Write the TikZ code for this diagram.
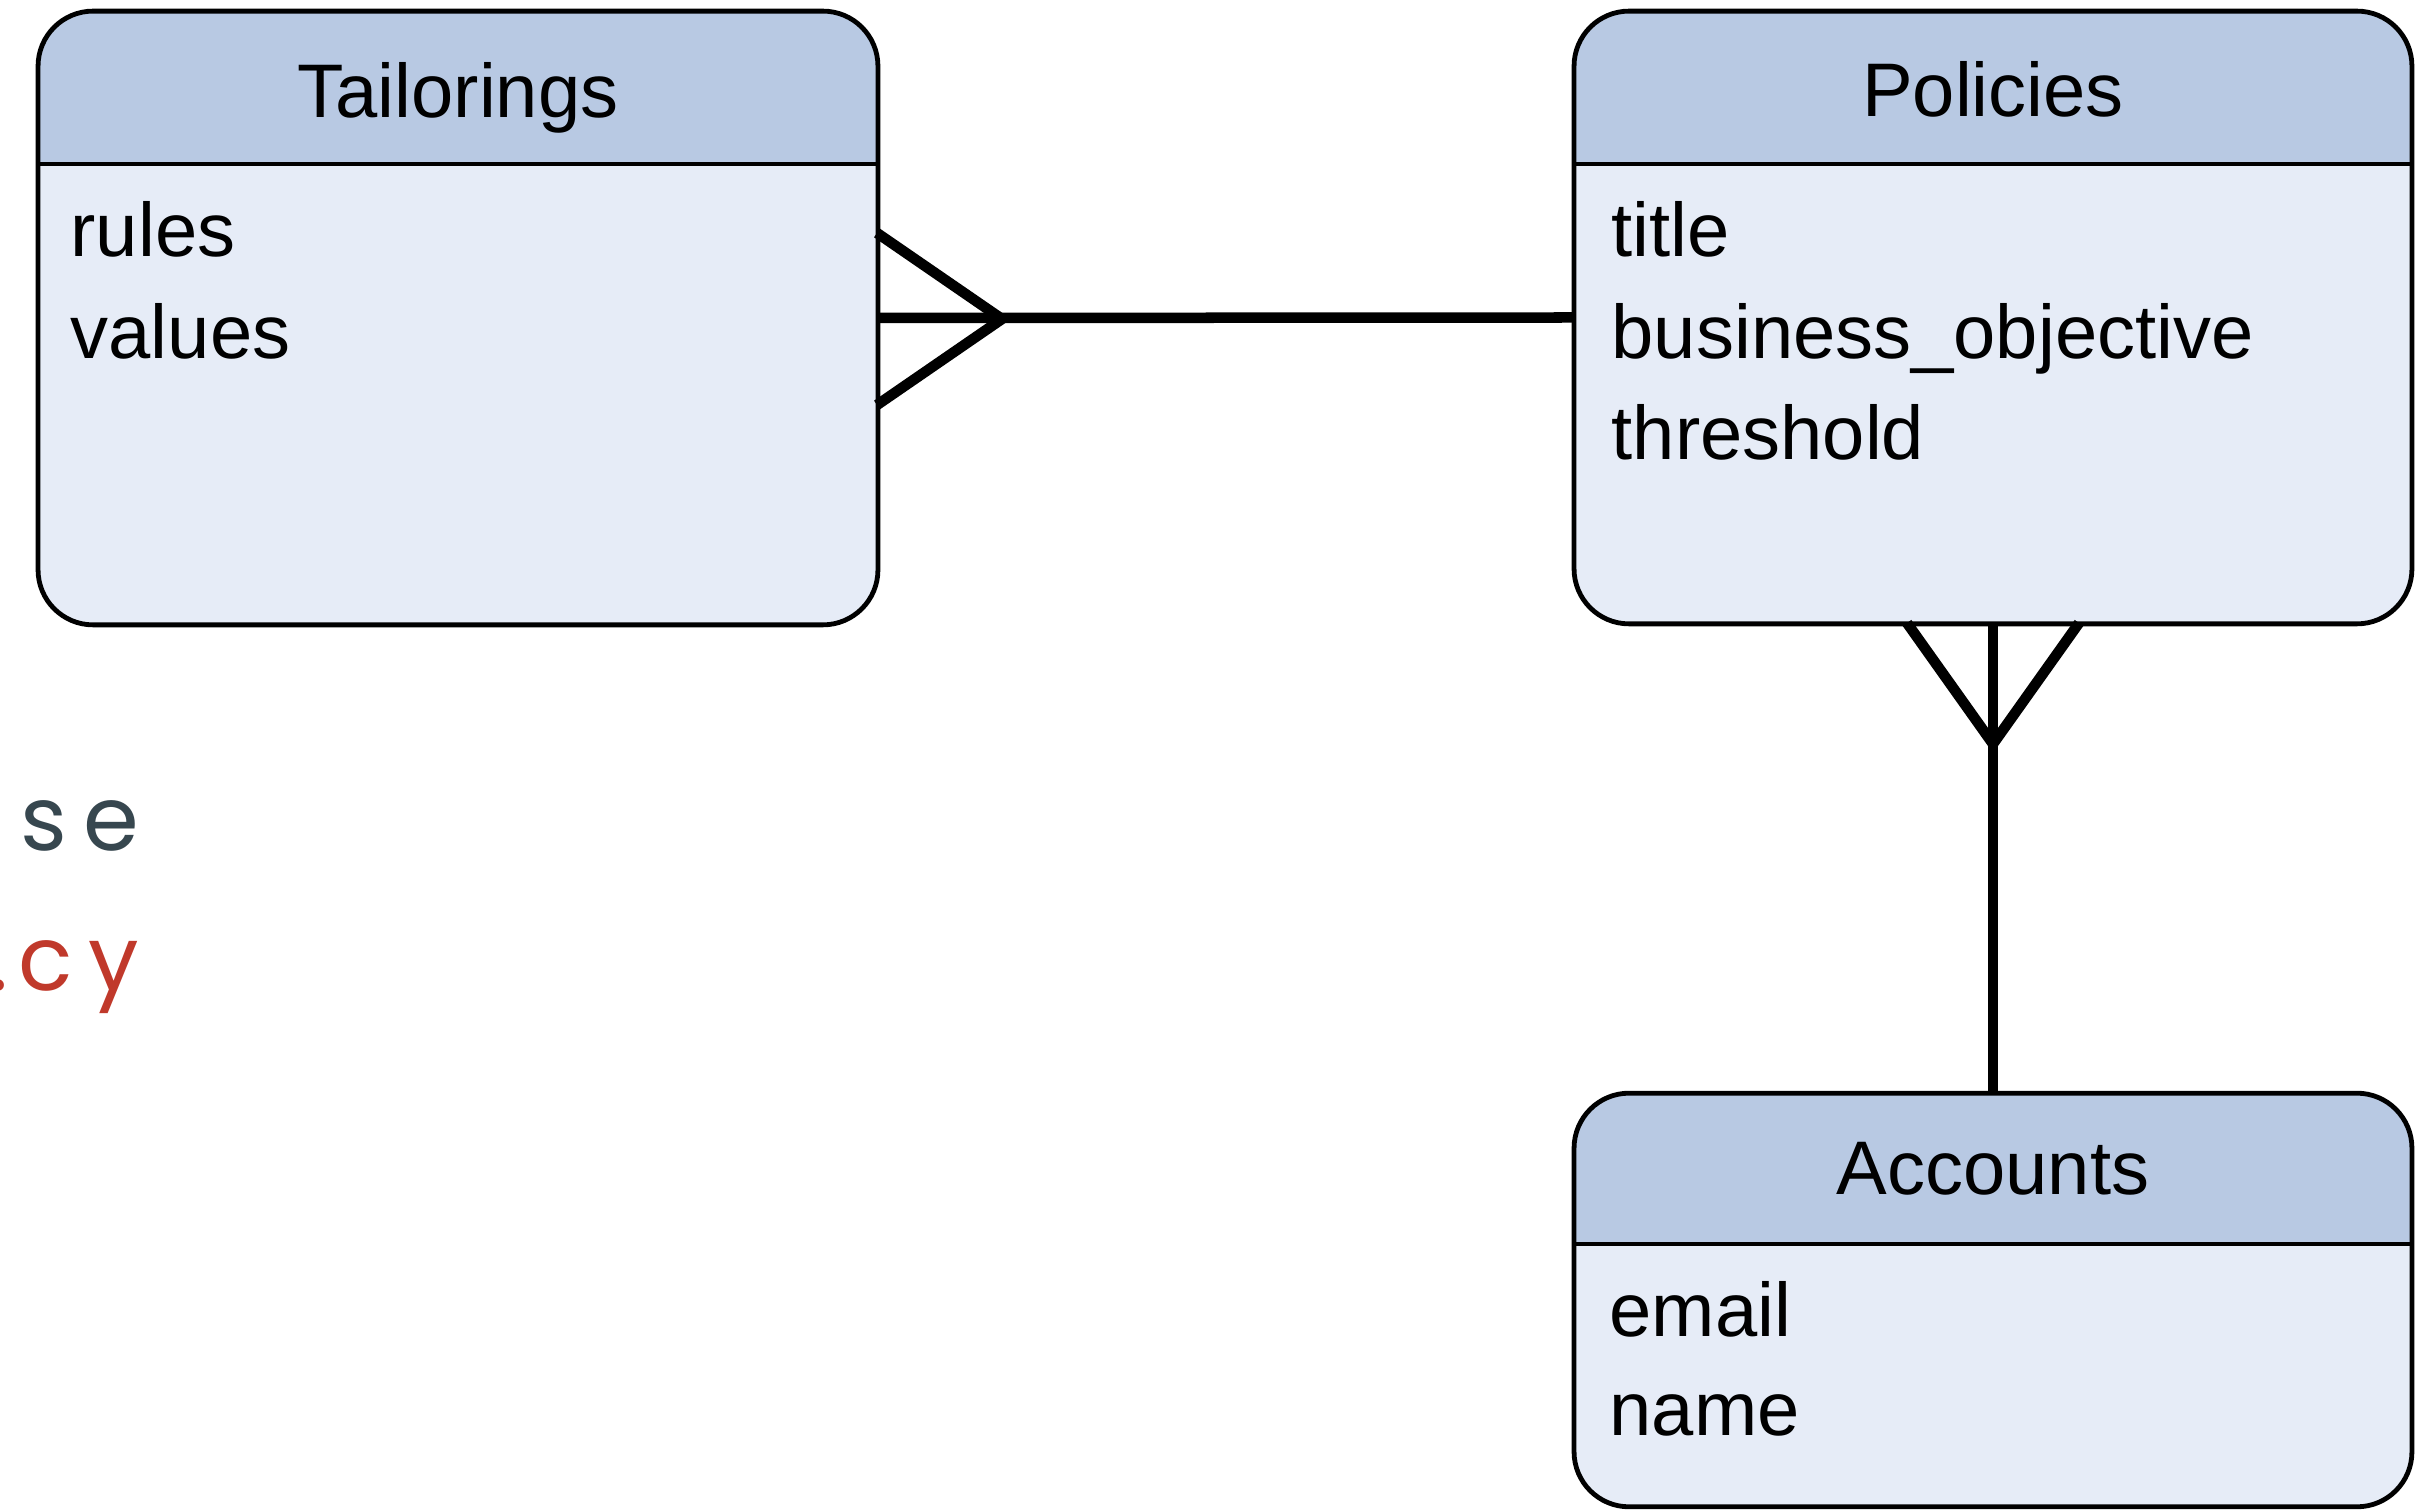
\documentclass[tikz,border=0pt]{standalone}
\usepackage{fontspec}
\setmainfont{Liberation Sans}
\newfontfamily\sidefont[LetterSpace=18]{Poppins}
\definecolor{hdr}{RGB}{184,201,227}
\definecolor{bdy}{RGB}{230,236,247}
\definecolor{slate}{RGB}{55,71,79}
\definecolor{brick}{RGB}{192,57,43}
\begin{document}
\begin{tikzpicture}[x=0.01cm,y=-0.01cm,
  entity/.style={rectangle, rounded corners=0.55cm, fill=bdy, inner sep=0pt},
  frame/.style={draw=black, line width=0.048cm, rounded corners=0.55cm},
  divider/.style={draw=black, line width=0.048cm},
  title/.style={font=\fontsize{21.6}{26}\selectfont, anchor=base, inner sep=0pt},
  attr/.style={font=\fontsize{21.6}{26}\selectfont, anchor=base west, inner sep=0pt},
  rel/.style={draw=black, line width=0.105cm},
  side/.style={font=\sidefont\fontsize{25.5}{30}\selectfont, anchor=base east, inner sep=0pt}]
\useasboundingbox (0,0) rectangle (2429,1510);
\clip (0,0) rectangle (2429,1510);

% side text
\node[side, text=slate] (se) at (140,851) {se};
\node[side, text=brick] (cy) at (140,991) {cy};
\node[side, text=brick] (dot) at (9,991) {.};

% entities
\node[entity, minimum width=8.38cm, minimum height=6.12cm] (tail) at (458,318) {};
\node[entity, minimum width=8.36cm, minimum height=6.11cm] (pol) at (1993,317.5) {};
\node[entity, minimum width=8.36cm, minimum height=4.12cm] (acc) at (1993,1300) {};

\coordinate (th) at (0,164);
\coordinate (ah) at (0,1244);

\begin{scope}
  \clip[rounded corners=0.55cm] (tail.north west) rectangle (tail.south east);
  \fill[hdr] (tail.north west) rectangle (tail.east |- th);
\end{scope}
\begin{scope}
  \clip[rounded corners=0.55cm] (pol.north west) rectangle (pol.south east);
  \fill[hdr] (pol.north west) rectangle (pol.east |- th);
\end{scope}
\begin{scope}
  \clip[rounded corners=0.55cm] (acc.north west) rectangle (acc.south east);
  \fill[hdr] (acc.north west) rectangle (acc.east |- ah);
\end{scope}

\draw[divider] (tail.west |- th) -- (tail.east |- th);
\draw[divider] (pol.west |- th) -- (pol.east |- th);
\draw[divider] (acc.west |- ah) -- (acc.east |- ah);

\draw[frame] (tail.north west) rectangle (tail.south east);
\draw[frame] (pol.north west) rectangle (pol.south east);
\draw[frame] (acc.north west) rectangle (acc.south east);

% titles
\node[title] (tailT) at (458,118) {Tailorings};
\node[title] (polT) at (1993,117) {Policies};
\node[title] (accT) at (1993,1195) {Accounts};

% attributes
\node[attr] (a1) at (70,257) {rules};
\node[attr] (a2) at (70,359) {values};
\node[attr] (p1) at (1611,257) {title};
\node[attr] (p2) at (1611,359) {business\_objective};
\node[attr] (p3) at (1611,460) {threshold};
\node[attr] (c1) at (1609,1337) {email};
\node[attr] (c2) at (1609,1436) {name};

% connectors
\coordinate (tj) at (1002,319);
\coordinate (tp1) at (877,233);
\coordinate (tp2) at (877,405);
\draw[rel] (tail.east) -- (pol.west);
\draw[rel] (tp1) -- (tj) -- (tp2);

\coordinate (pj) at (1993,744);
\coordinate (pp1) at (1907,623);
\coordinate (pp2) at (2079,623);
\draw[rel] (pol.south) -- (acc.north);
\draw[rel] (pp1) -- (pj) -- (pp2);
\end{tikzpicture}
\end{document}
